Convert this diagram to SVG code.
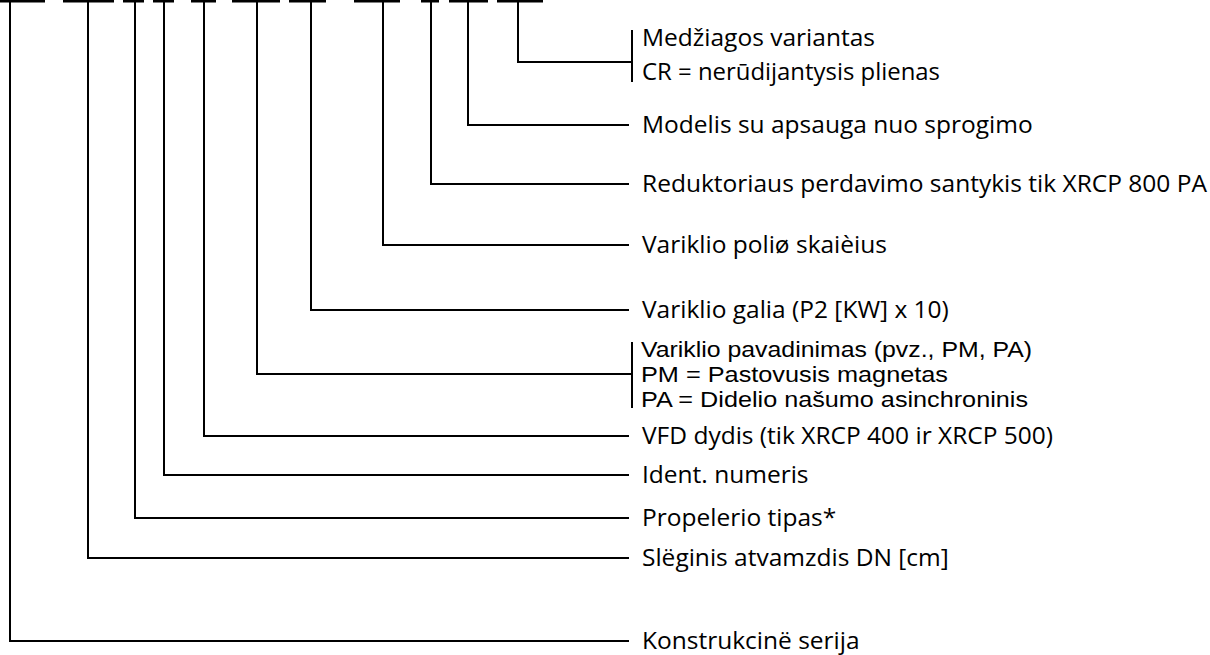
<svg xmlns="http://www.w3.org/2000/svg" width="1210" height="655" viewBox="0 0 1210 655">
<style>
.ln{stroke:#000;stroke-width:2;fill:none}
.dash{stroke:#000;stroke-width:3;fill:none}
.t{font-family:"Open Sans","Noto Sans",sans-serif;font-size:24.5px;fill:#000}
.a{font-family:"Liberation Sans",Arial,sans-serif;font-size:22px;fill:#000}
</style>
<rect width="1210" height="655" fill="#fff"/>
<g id="code-dashes">
<path class="dash" d="M0,1H45M63,1H114M123,1H144M153,1H174M191,1H216M232,1H280M289,1H326M354,1H400M421,1H439M449,1H488M497,1H543"/>
</g>
<g id="connectors">
<path class="ln" d="M518,2V62H632"/>
<path class="ln" d="M632,30V82"/>
<path class="ln" d="M468,2V125H629"/>
<path class="ln" d="M431,2V184H629"/>
<path class="ln" d="M383,2V245H629"/>
<path class="ln" d="M311,2V310H629"/>
<path class="ln" d="M257,2V374H632"/>
<path class="ln" d="M632,342V408"/>
<path class="ln" d="M204,2V436H629"/>
<path class="ln" d="M164,2V475H629"/>
<path class="ln" d="M135,2V518H629"/>
<path class="ln" d="M88,2V558H629"/>
<path class="ln" d="M10,2V641H629"/>
</g>
<g id="n-material"><text class="t" x="642" y="46" textLength="233" lengthAdjust="spacingAndGlyphs">Medžiagos variantas</text><text class="t" x="642" y="80" textLength="298" lengthAdjust="spacingAndGlyphs">CR = nerūdijantysis plienas</text></g>
<g id="n-ex"><text class="t" x="642" y="133">Modelis su apsauga nuo sprogimo</text></g>
<g id="n-gear"><text class="t" x="642" y="192" textLength="565" lengthAdjust="spacingAndGlyphs">Reduktoriaus perdavimo santykis tik XRCP 800 PA</text></g>
<g id="n-poles"><text class="t" x="642" y="253">Variklio poliø skaièius</text></g>
<g id="n-power"><text class="t" x="642" y="318">Variklio galia (P2 [KW] x 10)</text></g>
<g id="n-motor"><text class="a" x="641" y="357" textLength="391" lengthAdjust="spacingAndGlyphs">Variklio pavadinimas (pvz., PM, PA)</text><text class="a" x="641" y="382" textLength="307" lengthAdjust="spacingAndGlyphs">PM = Pastovusis magnetas</text><text class="a" x="641" y="407" textLength="387" lengthAdjust="spacingAndGlyphs">PA = Didelio našumo asinchroninis</text></g>
<g id="n-vfd"><text class="t" x="642" y="444">VFD dydis (tik XRCP 400 ir XRCP 500)</text></g>
<g id="n-ident"><text class="t" x="642" y="483">Ident. numeris</text></g>
<g id="n-prop"><text class="t" x="642" y="526">Propelerio tipas*</text></g>
<g id="n-dn"><text class="t" x="642" y="566">Slëginis atvamzdis DN [cm]</text></g>
<g id="n-series"><text class="t" x="642" y="649">Konstrukcinë serija</text></g>
</svg>
